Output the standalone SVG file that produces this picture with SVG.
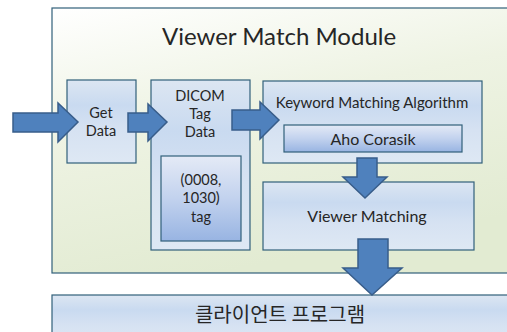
<svg xmlns="http://www.w3.org/2000/svg" width="507" height="332" viewBox="0 0 507 332">
<defs>
<linearGradient id="gMod" x1="0" y1="0" x2="0.35" y2="1">
<stop offset="0" stop-color="#ffffff"/>
<stop offset="0.45" stop-color="#eef3e3"/>
<stop offset="1" stop-color="#e2ebd2"/>
</linearGradient>
<linearGradient id="gBox" x1="0" y1="0" x2="0" y2="1">
<stop offset="0" stop-color="#dce6f2"/>
<stop offset="0.3" stop-color="#c9daf0"/>
<stop offset="0.6" stop-color="#d6e2f2"/>
<stop offset="1" stop-color="#dee8f4"/>
</linearGradient>
<linearGradient id="gIn" x1="0" y1="0" x2="0" y2="1">
<stop offset="0" stop-color="#e4eaf6"/>
<stop offset="0.5" stop-color="#c2d2ee"/>
<stop offset="1" stop-color="#98b4e2"/>
</linearGradient>
<style>
.box{fill:url(#gBox);stroke:#31607a;stroke-width:1.2}
.inner{fill:url(#gIn);stroke:#31607a;stroke-width:1.2}
.arrow{fill:#4f81bd;stroke:#385d8a;stroke-width:1.5;stroke-linejoin:miter}
text{font-family:Lato,"Noto Sans",sans-serif;fill:#262626;text-anchor:middle}
.t14{font-size:14.5px}
.t15{font-size:15px}
.t16{font-size:16px}
</style>
</defs>
<g id="module">
<rect x="52" y="8" width="470" height="265" fill="url(#gMod)" stroke="#31607a" stroke-width="1.2"/>
<text x="279" y="45" style="font-size:24px">Viewer Match Module</text>
</g>
<g id="client">
<rect x="52" y="295" width="470" height="50" class="box"/>
<text x="280" y="322" style="font-size:20px;font-family:'Noto Sans CJK KR',sans-serif">클라이언트 프로그램</text>
</g>
<g id="getdata">
<rect x="67" y="80" width="69" height="83" class="box"/>
<text x="101" y="118" class="t14">Get</text>
<text x="101" y="136" class="t14">Data</text>
</g>
<g id="dicom">
<rect x="151" y="80" width="99" height="170" class="box"/>
<text x="200" y="101" class="t14">DICOM</text>
<text x="200" y="119" class="t14">Tag</text>
<text x="200" y="137" class="t14">Data</text>
</g>
<g id="tag">
<rect x="161" y="156" width="80" height="85" class="inner"/>
<text x="201" y="185" class="t14">(0008,</text>
<text x="201" y="203" class="t14">1030)</text>
<text x="201" y="222" class="t14">tag</text>
</g>
<g id="keyword">
<rect x="263" y="81" width="219" height="82" class="box"/>
<text x="372" y="108" class="t15">Keyword Matching Algorithm</text>
</g>
<g id="aho">
<rect x="284" y="125" width="178" height="27" class="inner"/>
<text x="373" y="145" class="t16">Aho Corasik</text>
</g>
<g id="viewer">
<rect x="263" y="182" width="211" height="68" class="box"/>
<text x="367" y="222" class="t16">Viewer Matching</text>
</g>
<g id="connectors">
<polygon class="arrow" points="13,113 58,113 58,103 78,122 58,142 58,132 13,132"/>
<polygon class="arrow" points="128,113 148,113 148,104 167,122 148,141 148,132 128,132"/>
<polygon class="arrow" points="232,110 260,110 260,102 279,120 260,139 260,130 232,130"/>
<polygon class="arrow" points="357,158 377,158 377,177 387,177 365,198 343,177 357,177"/>
<polygon class="arrow" points="358,239 388,239 388,268 402,268 372,295 343,268 358,268"/>
</g>
</svg>
